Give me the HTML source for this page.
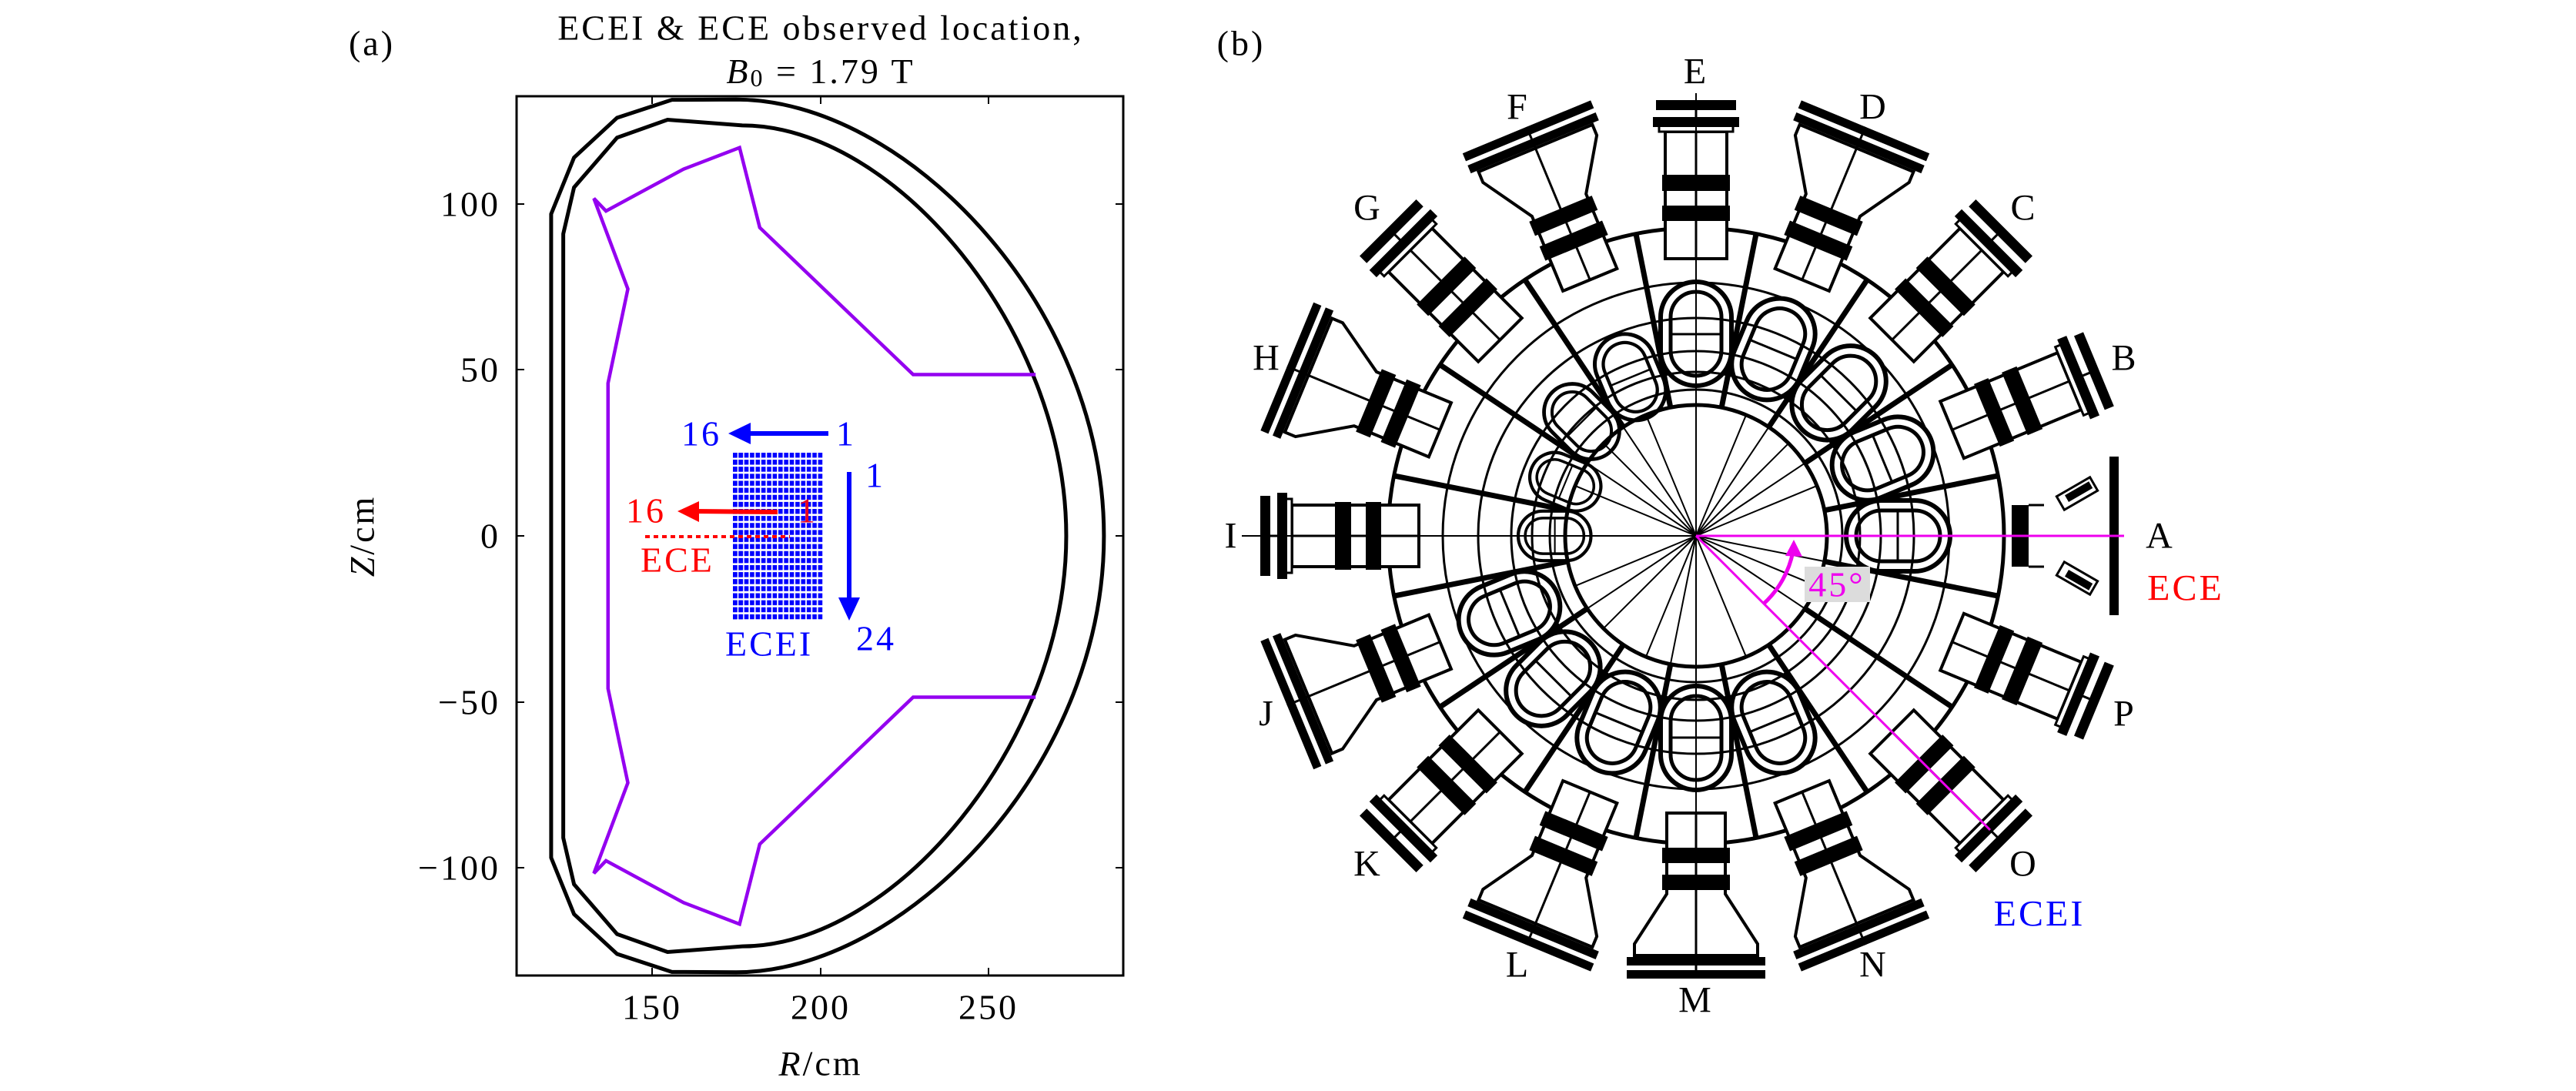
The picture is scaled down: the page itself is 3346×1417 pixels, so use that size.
<!DOCTYPE html>
<html><head><meta charset="utf-8"><style>
html,body{margin:0;padding:0;background:#fff}
svg{display:block}
text{font-family:"Liberation Serif","DejaVu Serif",serif;letter-spacing:3px}
</style></head><body>
<svg width="3346" height="1417" viewBox="0 0 3346 1417" xmlns="http://www.w3.org/2000/svg">
<defs>
<pattern id="grid" x="952" y="588" width="7.375" height="9.125" patternUnits="userSpaceOnUse">
<rect x="0" y="0" width="5.6" height="6.4" fill="#0000ff"/>
</pattern>
<g id="portS">
<rect x="360" y="-40" width="165" height="80" fill="#fff" stroke="#000" stroke-width="4"/>
<line x1="360" y1="0" x2="560" y2="0" stroke="#000" stroke-width="3"/>
<rect x="409" y="-44" width="20" height="88" fill="#000"/>
<rect x="448" y="-44" width="21" height="88" fill="#000"/>
<rect x="525" y="-48" width="10" height="96" fill="#fff" stroke="#000" stroke-width="3"/>
<rect x="531" y="-56" width="13" height="112" fill="#000"/>
<rect x="553" y="-52" width="13" height="104" fill="#000"/>
</g>
<g id="portF">
<path d="M360,-38 L465,-38 L530,-80 L545,-80 L545,80 L530,80 L465,38 L360,38 Z" fill="#fff" stroke="#000" stroke-width="4"/>
<line x1="360" y1="0" x2="575" y2="0" stroke="#000" stroke-width="3"/>
<rect x="405" y="-44" width="20" height="88" fill="#000"/>
<rect x="440" y="-44" width="20" height="88" fill="#000"/>
<rect x="547" y="-90" width="11" height="180" fill="#000"/>
<rect x="564" y="-90" width="11" height="180" fill="#000"/>
</g>
<g id="loop">
<rect x="195" y="-46" width="135" height="92" rx="46" fill="none" stroke="#000" stroke-width="6"/>
<rect x="208" y="-33" width="109" height="66" rx="33" fill="none" stroke="#000" stroke-width="5"/>
<line x1="262" y1="-33" x2="262" y2="33" stroke="#000" stroke-width="3"/>
</g>
<g id="sep">
<line x1="170" y1="0" x2="400" y2="0" stroke="#000" stroke-width="7"/>
</g>
<g id="thin">
<line x1="0" y1="0" x2="170" y2="0" stroke="#000" stroke-width="2"/>
</g>
</defs>

<text x="483" y="56" font-size="46" text-anchor="middle" dominant-baseline="central">(a)</text>
<text x="1066" y="36" font-size="46" text-anchor="middle" dominant-baseline="central">ECEI &amp; ECE observed location,</text>
<text x="1066" y="92" font-size="46" text-anchor="middle" dominant-baseline="central"><tspan font-style="italic">B</tspan><tspan font-size="32" dy="9">0</tspan><tspan dy="-9"> = 1.79 T</tspan></text>

<g transform="translate(191.5,696) scale(4.37,-4.31)" fill="none">
<path d="M175,131.5 L155.9,131.4 L139.6,126 L126.8,114 L120,97 L120,-97 L126.8,-114 L139.6,-126 L155.9,-131.4 L175,-131.5 C225,-131.5 284.3,-70 284.3,0 C284.3,70 225,131.5 175,131.5 Z" stroke="#000" stroke-width="5" vector-effect="non-scaling-stroke"/>
<path d="M176.8,123.7 L154.6,125.4 L139.6,120 L126.8,105 L123.6,91 L123.6,-91 L126.8,-105 L139.6,-120 L154.6,-125.4 L176.8,-123.7 C222,-123.7 273.1,-62 273.1,0 C273.1,62 222,123.7 176.8,123.7 Z" stroke="#000" stroke-width="5" vector-effect="non-scaling-stroke"/>
<path d="M264,48.6 L227.6,48.6 L182,92.9 L176,117 L159.3,110.5 L136.3,97.9 L132.7,101.7 L142.8,74.4 L136.9,46 L136.9,-46 L142.8,-74.4 L132.7,-101.7 L136.3,-97.9 L159.3,-110.5 L176,-117 L182,-92.9 L227.6,-48.6 L264,-48.6" stroke="#9400f0" stroke-width="4.5" vector-effect="non-scaling-stroke"/>
</g>
<rect x="671" y="125" width="788" height="1142" fill="none" stroke="#000" stroke-width="3"/>
<g stroke="#000" stroke-width="2">
<line x1="847" y1="125" x2="847" y2="135"/><line x1="1066" y1="125" x2="1066" y2="135"/><line x1="1284" y1="125" x2="1284" y2="135"/>
<line x1="847" y1="1267" x2="847" y2="1257"/><line x1="1066" y1="1267" x2="1066" y2="1257"/><line x1="1284" y1="1267" x2="1284" y2="1257"/>
<line x1="671" y1="265" x2="681" y2="265"/><line x1="671" y1="480" x2="681" y2="480"/><line x1="671" y1="696" x2="681" y2="696"/><line x1="671" y1="912" x2="681" y2="912"/><line x1="671" y1="1127" x2="681" y2="1127"/>
<line x1="1459" y1="265" x2="1449" y2="265"/><line x1="1459" y1="480" x2="1449" y2="480"/><line x1="1459" y1="696" x2="1449" y2="696"/><line x1="1459" y1="912" x2="1449" y2="912"/><line x1="1459" y1="1127" x2="1449" y2="1127"/>
</g>
<g font-size="46" text-anchor="end" dominant-baseline="central">
<text x="650" y="265">100</text><text x="650" y="480">50</text><text x="650" y="696">0</text><text x="650" y="912">−50</text><text x="650" y="1127">−100</text>
</g>
<g font-size="46" text-anchor="middle" dominant-baseline="central">
<text x="847" y="1308">150</text><text x="1066" y="1308">200</text><text x="1284" y="1308">250</text>
<text x="1066" y="1381"><tspan font-style="italic">R</tspan>/cm</text>
<text x="470" y="696" transform="rotate(-90 470 696)"><tspan font-style="italic">Z</tspan>/cm</text>
</g>

<rect x="952" y="588" width="118" height="219" fill="url(#grid)"/>
<rect x="952" y="588" width="14" height="219" fill="url(#grid)"/>
<line x1="1076" y1="563" x2="970" y2="563" stroke="#0000ff" stroke-width="6"/>
<polygon points="946,563 975,549 975,577" fill="#0000ff"/>
<line x1="1103" y1="613" x2="1103" y2="780" stroke="#0000ff" stroke-width="6"/>
<polygon points="1103,806 1089,776 1117,776" fill="#0000ff"/>
<g fill="#0000ff" font-size="46" dominant-baseline="central">
<text x="885" y="563">16</text><text x="1086" y="563">1</text>
<text x="1124" y="617">1</text><text x="1112" y="829">24</text>
<text x="942" y="836">ECEI</text>
</g>
<line x1="1010" y1="665" x2="900" y2="664" stroke="#ff0000" stroke-width="6"/>
<polygon points="880,664 908,651 908,678" fill="#ff0000"/>
<line x1="838" y1="697" x2="1026" y2="697" stroke="#ff0000" stroke-width="4" stroke-dasharray="6,5"/>
<g fill="#ff0000" font-size="46" dominant-baseline="central">
<text x="813" y="663">16</text><text x="1036" y="663" fill="#e8001c">1</text>
<text x="832" y="727">ECE</text>
</g>

<text x="1612" y="56" font-size="46" text-anchor="middle" dominant-baseline="central">(b)</text>
<g transform="translate(2203,696)">
<g fill="none" stroke="#000">
<circle r="400" stroke-width="5"/>
<circle r="329" stroke-width="3"/>
<circle r="283" stroke-width="3"/>
<circle r="240" stroke-width="3"/>
<circle r="213" stroke-width="3"/>
<circle r="190" stroke-width="3"/>
<circle r="170" stroke-width="5"/>
</g>
<g>
<use href="#thin" transform="rotate(0)"/><use href="#thin" transform="rotate(22.5)"/><use href="#thin" transform="rotate(45)"/><use href="#thin" transform="rotate(67.5)"/><use href="#thin" transform="rotate(90)"/><use href="#thin" transform="rotate(112.5)"/><use href="#thin" transform="rotate(135)"/><use href="#thin" transform="rotate(157.5)"/><use href="#thin" transform="rotate(180)"/><use href="#thin" transform="rotate(202.5)"/><use href="#thin" transform="rotate(225)"/><use href="#thin" transform="rotate(247.5)"/><use href="#thin" transform="rotate(270)"/><use href="#thin" transform="rotate(292.5)"/><use href="#thin" transform="rotate(315)"/><use href="#thin" transform="rotate(337.5)"/>
<use href="#thin" transform="rotate(11.25)"/><use href="#thin" transform="rotate(33.75)"/><use href="#thin" transform="rotate(101.25)"/><use href="#thin" transform="rotate(146.25)"/><use href="#thin" transform="rotate(213.75)"/><use href="#thin" transform="rotate(236.25)"/><use href="#thin" transform="rotate(303.75)"/><use href="#thin" transform="rotate(326.25)"/>
</g>
<g>
<use href="#sep" transform="rotate(11.25)"/><use href="#sep" transform="rotate(33.75)"/><use href="#sep" transform="rotate(56.25)"/><use href="#sep" transform="rotate(78.75)"/><use href="#sep" transform="rotate(101.25)"/><use href="#sep" transform="rotate(123.75)"/><use href="#sep" transform="rotate(146.25)"/><use href="#sep" transform="rotate(168.75)"/><use href="#sep" transform="rotate(191.25)"/><use href="#sep" transform="rotate(213.75)"/><use href="#sep" transform="rotate(236.25)"/><use href="#sep" transform="rotate(258.75)"/><use href="#sep" transform="rotate(281.25)"/><use href="#sep" transform="rotate(303.75)"/><use href="#sep" transform="rotate(326.25)"/><use href="#sep" transform="rotate(348.75)"/>
</g>
<g>
<use href="#loop" transform="rotate(0)"/><use href="#loop" transform="rotate(-22.5)"/><use href="#loop" transform="rotate(-45)"/><use href="#loop" transform="rotate(-67.5)"/><use href="#loop" transform="rotate(-90)"/>
<use href="#loop" transform="rotate(67.5)"/><use href="#loop" transform="rotate(90)"/><use href="#loop" transform="rotate(112.5)"/><use href="#loop" transform="rotate(135)"/><use href="#loop" transform="rotate(157.5)"/>
<g transform="rotate(-112.5) scale(0.85)"><use href="#loop"/></g>
<g transform="rotate(-135) scale(0.8)"><use href="#loop"/></g>
<g transform="rotate(180) scale(0.7)"><use href="#loop"/></g>
<g transform="rotate(-157.5) scale(0.7)"><use href="#loop"/></g>
</g>
<use href="#portS" transform="rotate(-22.5)"/>
<use href="#portS" transform="rotate(-45)"/>
<use href="#portF" transform="rotate(-67.5)"/>
<use href="#portS" transform="rotate(-90)"/>
<use href="#portF" transform="rotate(-112.5)"/>
<use href="#portS" transform="rotate(-135)"/>
<use href="#portF" transform="rotate(-157.5)"/>
<use href="#portS" transform="rotate(180)"/>
<use href="#portF" transform="rotate(157.5)"/>
<use href="#portS" transform="rotate(135)"/>
<use href="#portF" transform="rotate(112.5)"/>
<use href="#portF" transform="rotate(90)"/>
<use href="#portF" transform="rotate(67.5)"/>
<use href="#portS" transform="rotate(45)"/>
<use href="#portS" transform="rotate(22.5)"/>
<rect x="410" y="-40" width="22" height="80" fill="#000"/>
<line x1="432" y1="-40" x2="452" y2="-40" stroke="#000" stroke-width="3"/>
<line x1="432" y1="40" x2="452" y2="40" stroke="#000" stroke-width="3"/>
<rect x="537" y="-103" width="12" height="206" fill="#000"/>
<g transform="translate(495,-55) rotate(-30)"><rect x="-25" y="-10" width="50" height="20" fill="#fff" stroke="#000" stroke-width="3"/><rect x="-15" y="-6" width="36" height="10" fill="#000"/></g>
<g transform="translate(495,55) rotate(30)"><rect x="-25" y="-10" width="50" height="20" fill="#fff" stroke="#000" stroke-width="3"/><rect x="-15" y="-4" width="36" height="10" fill="#000"/></g>
<line x1="-590" y1="0" x2="0" y2="0" stroke="#000" stroke-width="2"/>
<line x1="0" y1="-575" x2="0" y2="575" stroke="#000" stroke-width="2"/>
<line x1="0" y1="0" x2="556" y2="0" stroke="#ee00ee" stroke-width="3"/>
<line x1="0" y1="0" x2="382" y2="382" stroke="#ee00ee" stroke-width="3"/>
<path d="M88,88 A124,124 0 0 0 126,20" fill="none" stroke="#ee00ee" stroke-width="5"/>
<polygon points="127,5 116,26 138,27" fill="#ee00ee"/>
<rect x="141" y="40" width="85" height="46" fill="#dcdcdc"/>
<text x="183" y="63" font-size="46" fill="#ee00ee" text-anchor="middle" dominant-baseline="central">45°</text>
</g>
<g font-size="48" text-anchor="middle" dominant-baseline="central">
<text x="2806" y="696">A</text>
<text x="2760" y="465">B</text>
<text x="2629" y="270">C</text>
<text x="2434" y="139">D</text>
<text x="2203" y="93">E</text>
<text x="1972" y="139">F</text>
<text x="1777" y="270">G</text>
<text x="1646" y="465">H</text>
<text x="1600" y="696">I</text>
<text x="1646" y="927">J</text>
<text x="1777" y="1122">K</text>
<text x="1972" y="1253">L</text>
<text x="2203" y="1299">M</text>
<text x="2434" y="1253">N</text>
<text x="2629" y="1122">O</text>
<text x="2760" y="927">P</text>
<text x="2839" y="764" fill="#ff0000">ECE</text>
<text x="2649" y="1187" fill="#0000ff">ECEI</text>
</g>
</svg>
</body></html>
